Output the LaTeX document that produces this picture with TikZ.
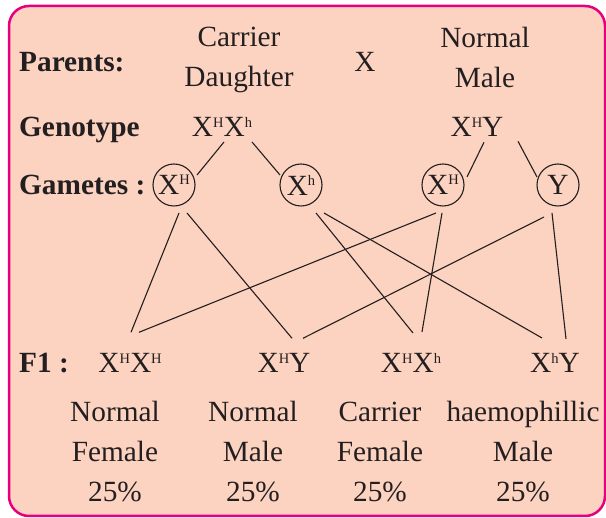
\documentclass[tikz,border=0pt]{standalone}
\usepackage{fontspec}
\setmainfont{Liberation Serif}
\usepackage{xcolor}
\usetikzlibrary{positioning, calc}
\definecolor{peach}{RGB}{252,210,192}
\definecolor{rim}{RGB}{230,0,126}
\definecolor{ink}{RGB}{35,31,32}
% X with a small raised allele letter
\newcommand{\gene}[1]{X\raisebox{0.34em}{\fontsize{14.5}{14.5}\selectfont#1}}

\begin{document}
\begin{tikzpicture}[
    x=1pt, y=-1pt,
    % plain serif text
    txt/.style={text=ink, inner sep=0pt, align=center,
                font=\fontsize{29.3}{40}\selectfont},
    % bold row labels on the left
    rowlabel/.style={text=ink, inner sep=0pt, anchor=base west,
                     font=\fontsize{29.3}{40}\selectfont\bfseries},
    % circled gametes
    gamete/.style={txt, circle, draw=ink, line width=1.1pt, minimum size=42pt},
    link/.style={draw=ink, line width=1.1pt}
]
\useasboundingbox (0,0) rectangle (606,518);
\draw[rim, fill=peach, line width=2.5pt, rounded corners=20pt] (9,6) rectangle (605,516);

%-------- PARENTS --------
\node[rowlabel] (parlab) at (19,72) {Parents:};
\node[txt] (mother) at (239,60) {Carrier\\Daughter};
\node[txt, anchor=base] (cross) at (365,72) {X};
\node[txt] (father) at (485,57) {Normal\\Male};

%-------- GENOTYPE --------
\node[rowlabel] (genlab) at (19,137) {Genotype};
\node[txt, anchor=base] (mom) at (222,137) {\gene{H}\gene{h}};
\node[txt, anchor=base] (dad) at (477,137) {\gene{H}Y};

%-------- GAMETES --------
\node[rowlabel] (gamlab) at (19,195) {Gametes :};
\node[gamete] (g1) at (174,185) {\gene{H}};
\node[gamete] (g2) at (301,185) {\gene{h}};
\node[gamete] (g3) at (443,185) {\gene{H}};
\node[gamete] (g4) at (558,185) {Y};

%-------- F1 --------
\node[rowlabel] (f1lab) at (19,373) {F1 :};
\node[txt, anchor=base] (f1a) at (130,373) {\gene{H}\gene{H}};
\node[txt, anchor=base] (f1b) at (284,373) {\gene{H}Y};
\node[txt, anchor=base] (f1c) at (411,373) {\gene{H}\gene{h}};
\node[txt, anchor=base] (f1d) at (555,373) {\gene{h}Y};

\node[txt] (nfem) at (115,452) {Normal\\Female\\25\%};
\node[txt] (nmal) at (253,452) {Normal\\Male\\25\%};
\node[txt] (cfem) at (380,452) {Carrier\\Female\\25\%};
\node[txt] (hmal) at (523,452) {haemophillic\\Male\\25\%};

%-------- LINES: parents to gametes --------
\draw[link] ($(mom)+(2,15)$)  -- ($(g1)+(23,-10)$);
\draw[link] ($(mom)+(30,15)$) -- ($(g2)+(-21,-10)$);
\draw[link] ($(dad)+(7,15)$)  -- ($(g3)+(24,-8)$);
\draw[link] ($(dad)+(41,14)$) -- ($(g4)+(-21,-8)$);

%-------- LINES: gametes to F1 --------
\draw[link] ($(g1)+(5,28)$)   -- ($(f1a)+(1,-31)$);
\draw[link] ($(g1)+(13,28)$)  -- ($(f1b)+(8,-25)$);
\draw[link] ($(g2)+(15,28)$)  -- ($(f1c)+(2,-30)$);
\draw[link] ($(g2)+(23,28)$)  -- ($(f1d)+(-13,-25)$);
\draw[link] ($(g3)+(-7,28)$)  -- ($(f1a)+(9,-31)$);
\draw[link] ($(g3)+(-1,28)$)  -- ($(f1c)+(11,-31)$);
\draw[link] ($(g4)+(-14,32)$) -- ($(f1b)+(19,-25)$);
\draw[link] ($(g4)+(-6,28)$)  -- ($(f1d)+(11,-24)$);

\end{tikzpicture}
\end{document}
